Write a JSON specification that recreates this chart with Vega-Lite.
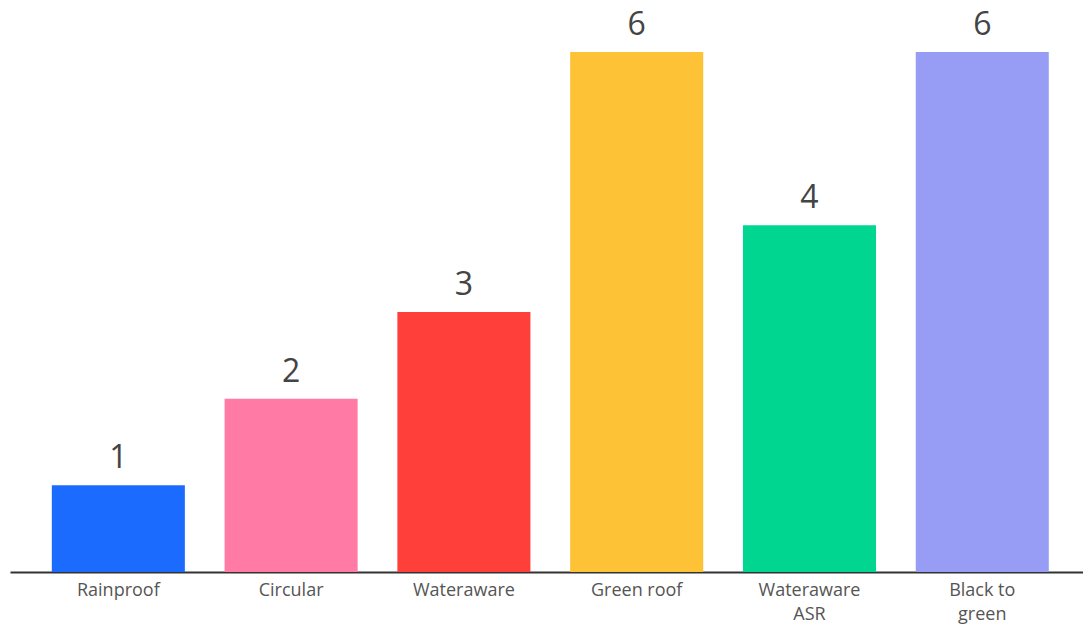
{
  "$schema": "https://vega.github.io/schema/vega-lite/v6.json",
  "autosize": {"type": "none"},
  "width": 1073,
  "height": 520,
  "padding": {"left": 10, "top": 52, "right": 0, "bottom": 53},
  "background": "white",
  "config": {"view": {"stroke": null}, "font": "Open Sans"},
  "data": {"values": [
    {"label": "Rainproof", "value": 1, "color": "#1C6BFF"},
    {"label": "Circular", "value": 2, "color": "#FF7BA6"},
    {"label": "Wateraware", "value": 3, "color": "#FF3F3A"},
    {"label": "Green roof", "value": 6, "color": "#FDC236"},
    {"label": "Wateraware|ASR", "value": 4, "color": "#00D68F"},
    {"label": "Black to|green", "value": 6, "color": "#979CF5"}
  ]},
  "encoding": {
    "x": {
      "field": "label", "type": "nominal", "sort": null,
      "scale": {"paddingInner": 0.23, "paddingOuter": 0.22, "align": 0.55},
      "axis": {
        "title": null, "labelAngle": 0, "ticks": false, "grid": false,
        "domainColor": "#333333", "domainWidth": 2,
        "labelColor": "#555555", "labelFontSize": 18, "labelPadding": 9,
        "labelLineHeight": 24,
        "labelExpr": "split(datum.label, '|')"
      }
    },
    "y": {"field": "value", "type": "quantitative", "scale": {"domain": [0, 6]}, "axis": null}
  },
  "layer": [
    {"mark": {"type": "bar"}, "encoding": {"color": {"field": "color", "type": "nominal", "scale": null}}},
    {"mark": {"type": "text", "baseline": "bottom", "dy": -10, "fontSize": 32, "color": "#444444"},
     "encoding": {"text": {"field": "value", "type": "quantitative"}}}
  ]
}
